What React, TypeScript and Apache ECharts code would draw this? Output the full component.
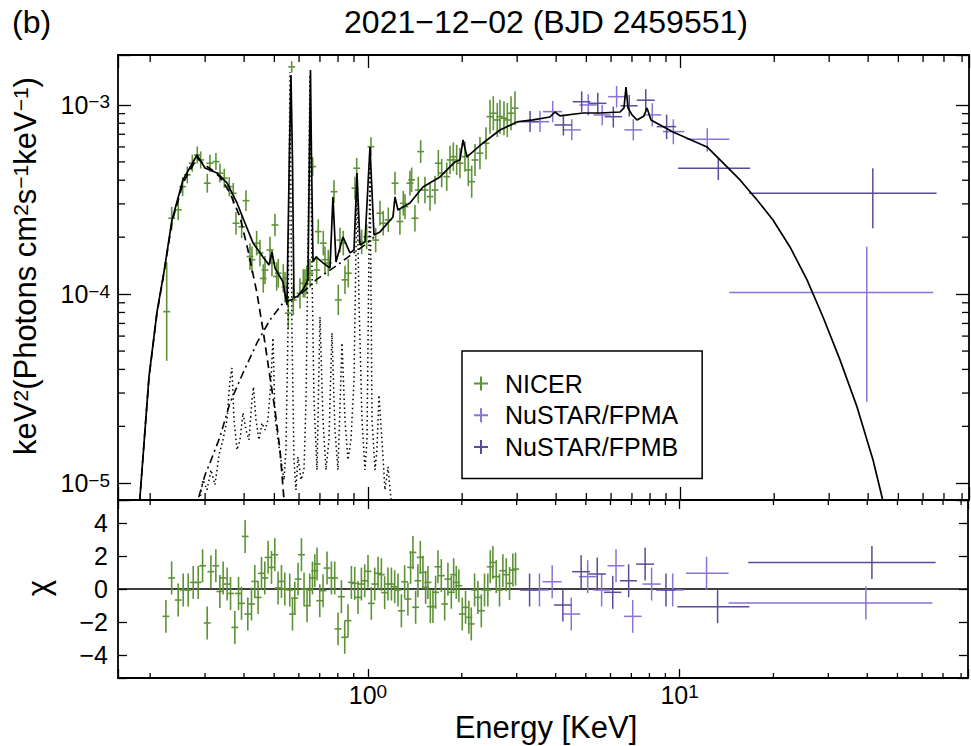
import React, { useEffect, useRef } from 'react';
import * as echarts from 'echarts';

const FONT = '"Liberation Sans", Arial, Helvetica, sans-serif';

// axis ranges
const X_MIN = 0.1577;
const X_MAX = 84.2;
const Y_MIN = 8.16e-6;
const Y_MAX = 1.837e-3;
const CHI_MIN = -5.4;
const CHI_MAX = 5.4;

// minor tick values
const xMinorTicks = [0.2, 0.3, 0.4, 0.5, 0.6, 0.7, 0.8, 0.9, 2, 3, 4, 5, 6, 7, 8, 9, 20, 30, 40, 50, 60, 70, 80];
const yMinorTicks = [2e-5, 3e-5, 4e-5, 5e-5, 6e-5, 7e-5, 8e-5, 9e-5, 2e-4, 3e-4, 4e-4, 5e-4, 6e-4, 7e-4, 8e-4, 9e-4];

const NICER_COLOR = '#5d9236';
const FPMA_COLOR = '#8a72d8';
const FPMB_COLOR = '#5b4a9c';

// NICER spectrum: [energy keV, flux, error (dex)]
const nicerSpec: number[][] = [
  [0.2259, 8.08e-5, 0.26], [0.2344, 2.52e-4, 0.06], [0.246, 2.79e-4, 0.055], [0.2541, 3.7e-4, 0.05],
  [0.263, 4.27e-4, 0.045], [0.2729, 4.92e-4, 0.045], [0.2831, 5.44e-4, 0.045], [0.2903, 5.12e-4, 0.045],
  [0.3048, 3.86e-4, 0.05], [0.3109, 4.92e-4, 0.045], [0.3249, 5.02e-4, 0.045], [0.3347, 4.36e-4, 0.05],
  [0.3455, 4.1e-4, 0.05], [0.3585, 3.7e-4, 0.05], [0.3692, 3.41e-4, 0.055], [0.3767, 2.37e-4, 0.06],
  [0.3928, 2.27e-4, 0.06], [0.4055, 3.12e-4, 0.055], [0.4176, 1.58e-4, 0.07], [0.4238, 1.52e-4, 0.07],
  [0.4387, 1.86e-4, 0.065], [0.4496, 1.65e-4, 0.07], [0.4607, 1.21e-4, 0.075], [0.4665, 1.34e-4, 0.075],
  [0.484, 1.71e-4, 0.07], [0.4912, 1.46e-4, 0.07], [0.5023, 2.32e-4, 0.06], [0.5086, 1.24e-4, 0.075],
  [0.5146, 1.29e-4, 0.075], [0.534, 1.21e-4, 0.075], [0.5408, 1.09e-4, 0.08], [0.5541, 7.93e-5, 0.085],
  [0.5682, 1.59e-3, 0.03], [0.5749, 9.32e-5, 0.08], [0.604, 1.01e-4, 0.08], [0.6189, 1.14e-4, 0.075],
  [0.6267, 1.14e-4, 0.075], [0.6346, 1.19e-4, 0.075], [0.6503, 1.29e-4, 0.075], [0.6634, 4.72e-4, 0.05],
  [0.6833, 1.34e-4, 0.075], [0.6914, 2.14e-4, 0.065], [0.7175, 1.86e-4, 0.065], [0.7265, 1.52e-4, 0.07],
  [0.7444, 1.46e-4, 0.07], [0.7764, 3.48e-4, 0.06], [0.8014, 9.32e-5, 0.08], [0.8115, 1.93e-4, 0.065],
  [0.8315, 1.86e-4, 0.065], [0.842, 1.19e-4, 0.075], [0.8627, 1.29e-4, 0.075], [0.9066, 3.63e-4, 0.06],
  [0.918, 4.63e-4, 0.055], [0.9524, 1.89e-4, 0.065], [0.9883, 2.01e-4, 0.065], [1.02, 6.02e-4, 0.05],
  [1.056, 1.93e-4, 0.065], [1.09, 2.68e-4, 0.065], [1.117, 2.37e-4, 0.065], [1.159, 2.47e-4, 0.065],
  [1.218, 3.86e-4, 0.06], [1.263, 2.42e-4, 0.07], [1.295, 3.02e-4, 0.065], [1.311, 2.9e-4, 0.065],
  [1.36, 3.86e-4, 0.065], [1.377, 4.02e-4, 0.065], [1.411, 2.52e-4, 0.07], [1.446, 3.55e-4, 0.07],
  [1.472, 5.67e-4, 0.06], [1.519, 3.55e-4, 0.07], [1.577, 3.28e-4, 0.075], [1.636, 3.55e-4, 0.075],
  [1.677, 4.92e-4, 0.07], [1.719, 4.36e-4, 0.075], [1.784, 4.18e-4, 0.075], [1.828, 5.12e-4, 0.075],
  [1.873, 5.33e-4, 0.075], [1.92, 5.12e-4, 0.08], [1.967, 4.92e-4, 0.08], [2.041, 5.33e-4, 0.08],
  [2.092, 4.53e-4, 0.085], [2.145, 3.93e-4, 0.085], [2.198, 5.12e-4, 0.085], [2.28, 5.56e-4, 0.085],
  [2.384, 6.27e-4, 0.085], [2.455, 8.67e-4, 0.09], [2.516, 9.04e-4, 0.09], [2.591, 8.33e-4, 0.09],
  [2.643, 8.67e-4, 0.09], [2.722, 8.51e-4, 0.09], [2.79, 8.33e-4, 0.09], [2.867, 9.04e-4, 0.09],
  [2.953, 9.61e-4, 0.09],
];

// NICER residuals: [energy keV, chi]
const nicerResid: number[][] = [
  [0.2247, -1.66], [0.2344, 0.67], [0.246, -0.67], [0.2553, -0.06], [0.2649, -0.06], [0.2749, 0.4],
  [0.2852, 0.4], [0.2946, 1.41], [0.3048, -2.06], [0.3133, 1.05], [0.3249, 1.41], [0.3347, -0.15],
  [0.3429, 0.67], [0.3532, 0.3], [0.3622, -0.27], [0.3739, -2.33], [0.3842, -0.27], [0.3928, -0.87],
  [0.4034, 3.19], [0.4115, -1.52], [0.4229, -0.91], [0.4333, 0.46], [0.444, -0.51], [0.4553, 0.95],
  [0.4665, 0.67], [0.4781, 1.92], [0.4902, 1.31], [0.5023, 2.08], [0.5146, 0.06], [0.5277, 0.46],
  [0.5408, 0.0], [0.561, -0.06], [0.5724, -1.52], [0.5822, -0.55], [0.5965, 0.6], [0.6116, 2.08],
  [0.6235, 0.0], [0.6374, -1.01], [0.6503, -0.06], [0.6634, 0.67], [0.6749, 1.11], [0.6863, 1.52],
  [0.7002, -0.71], [0.7175, -0.1], [0.7389, 1.27], [0.7632, 0.67], [0.782, 0.67], [0.8014, -2.42],
  [0.8217, -0.47], [0.842, -2.93], [0.8627, -1.92], [0.8846, 0.4], [0.9066, 0.34], [0.9289, -0.51],
  [0.9524, 0.3], [0.9759, 0.5], [1.0, 1.07], [1.025, -0.87], [1.051, 0.3], [1.077, 0.95],
  [1.104, 0.87], [1.131, -0.22], [1.159, 0.3], [1.189, 0.3], [1.218, 0.14], [1.248, -0.06],
  [1.28, -1.32], [1.311, 0.44], [1.343, -0.61], [1.37, 1.31], [1.394, 2.22], [1.422, -1.11],
  [1.446, 0.5], [1.472, 1.92], [1.501, 1.01], [1.531, 0.1], [1.557, 0.4], [1.585, -1.07],
  [1.616, -1.07], [1.648, -0.2], [1.677, 1.35], [1.719, 0.81], [1.762, -0.91], [1.805, 0.6],
  [1.851, -0.2], [1.883, 0.87], [1.92, 0.4], [1.957, 0.2], [2.007, -1.52], [2.056, -1.11],
  [2.107, -1.72], [2.145, -2.12], [2.198, -0.06], [2.252, -0.51], [2.31, -1.32], [2.366, -0.06],
  [2.424, -0.06], [2.468, 1.35], [2.516, 1.61], [2.579, 0.75], [2.643, -0.06], [2.709, 1.11],
  [2.777, 0.87], [2.846, 0.34], [2.916, 1.15], [2.975, 1.21],
];

// NuSTAR: [E, Elo, Ehi, F, Flo, Fhi, chi]
const fpma: number[][] = [
  [3.55, 3.3, 3.8, 8.16e-4, 7.2e-4, 9.3e-4, -0.06],
  [3.9, 3.63, 4.18, 9.22e-4, 8.1e-4, 1.05e-3, 0.44],
  [4.49, 4.2, 4.8, 7.38e-4, 6.5e-4, 8.4e-4, -1.52],
  [5.07, 4.75, 5.4, 1.0e-3, 8.8e-4, 1.14e-3, 0.75],
  [5.62, 5.27, 5.98, 8.86e-4, 7.8e-4, 1.0e-3, -0.06],
  [6.25, 5.87, 6.65, 1.106e-3, 9.7e-4, 1.26e-3, 1.41],
  [7.07, 6.62, 7.55, 7.38e-4, 6.5e-4, 8.4e-4, -1.66],
  [8.13, 7.6, 8.7, 8.86e-4, 7.7e-4, 1.02e-3, 0.3],
  [9.5, 8.8, 10.3, 7.23e-4, 6.2e-4, 8.4e-4, -0.06],
  [12.2, 10.48, 14.36, 6.59e-4, 5.66e-4, 7.53e-4, 0.95],
  [39.6, 14.36, 64.7, 1.02e-4, 2.7e-5, 1.78e-4, -0.85],
];
const fpmb: number[][] = [
  [3.3, 3.08, 3.52, 8.16e-4, 7.2e-4, 9.3e-4, -0.06],
  [4.22, 3.95, 4.5, 7.84e-4, 6.9e-4, 8.9e-4, -0.97],
  [4.83, 4.52, 5.15, 1.04e-3, 9.2e-4, 1.18e-3, 1.05],
  [5.44, 5.1, 5.8, 1.02e-3, 9.0e-4, 1.16e-3, 0.91],
  [6.1, 5.72, 6.5, 8.67e-4, 7.6e-4, 9.8e-4, -0.2],
  [6.86, 6.43, 7.3, 9.9e-4, 8.7e-4, 1.13e-3, 0.5],
  [7.75, 7.25, 8.28, 1.06e-3, 9.3e-4, 1.21e-3, 1.51],
  [9.04, 8.4, 9.7, 7.68e-4, 6.6e-4, 8.9e-4, -0.06],
  [13.24, 9.84, 16.74, 4.63e-4, 4.01e-4, 5.25e-4, -1.07],
  [41.4, 16.6, 66.3, 3.41e-4, 2.23e-4, 4.63e-4, 1.61],
];

// model curves [E, F]
const modelTotal: number[][] = [
  [0.1827, 6.81e-6], [0.1854, 8.37e-6], [0.1982, 3.65e-5], [0.2103, 8.05e-5], [0.2214, 1.31e-4],
  [0.2349, 2.467e-4], [0.2547, 4.015e-4], [0.2825, 5.441e-4], [0.2997, 4.645e-4], [0.3274, 4.371e-4],
  [0.3525, 3.87e-4], [0.3796, 3.034e-4], [0.4025, 2.378e-4], [0.4271, 1.865e-4], [0.4598, 1.572e-4],
  [0.4806, 1.426e-4], [0.4912, 1.671e-4], [0.5023, 1.375e-4], [0.5328, 1.16e-4], [0.5487, 8.77e-5],
  [0.559, 5.78e-4], [0.5652, 1.441e-3], [0.5715, 5.12e-4], [0.5778, 9.55e-5], [0.5951, 9.78e-5],
  [0.6221, 1.078e-4], [0.6407, 1.189e-4], [0.6479, 5.78e-4], [0.6527, 1.531e-3], [0.6577, 5.12e-4],
  [0.665, 1.48e-4], [0.6798, 1.572e-4], [0.7159, 1.462e-4], [0.7538, 1.375e-4], [0.7705, 3.264e-4],
  [0.788, 1.48e-4], [0.8297, 2.005e-4], [0.8736, 1.651e-4], [0.8999, 1.712e-4], [0.92, 4.371e-4],
  [0.9406, 1.82e-4], [0.9759, 1.887e-4], [1.0126, 5.998e-4], [1.043, 2.055e-4], [1.09, 2.132e-4],
  [1.2, 2.559e-4], [1.218, 3.264e-4], [1.245, 2.786e-4], [1.36, 3.034e-4], [1.497, 3.686e-4],
  [1.697, 4.164e-4], [1.896, 4.996e-4], [1.967, 5.121e-4], [2.012, 6.531e-4], [2.072, 5.311e-4],
  [2.332, 6.296e-4], [2.643, 7.376e-4], [2.997, 8.131e-4], [3.373, 8.333e-4], [3.823, 8.64e-4],
  [3.966, 9.18e-4], [4.115, 8.747e-4], [4.877, 9.07e-4], [5.528, 9.07e-4], [6.409, 9.18e-4],
  [6.6, 9.64e-4], [6.699, 1.245e-3], [6.799, 9.64e-4], [7.002, 8.86e-4], [7.265, 8.333e-4],
  [7.65, 8.747e-4], [7.821, 9.64e-4], [8.055, 8.333e-4], [9.476, 7.198e-4], [12.18, 5.998e-4],
  [13.71, 4.936e-4], [15.54, 4.015e-4], [17.62, 3.147e-4], [19.82, 2.467e-4], [22.47, 1.776e-4],
  [25.48, 1.189e-4], [28.67, 7.57e-5], [32.5, 4.49e-5], [36.85, 2.534e-5], [41.47, 1.329e-5],
  [44.31, 8.47e-6], [45.3, 7.06e-6],
];
const modelSoft: number[][] = [
  [0.1827, 6.81e-6], [0.1854, 8.37e-6], [0.1982, 3.61e-5], [0.2103, 7.95e-5], [0.2214, 1.294e-4],
  [0.2349, 2.407e-4], [0.2547, 3.87e-4], [0.2825, 5.245e-4], [0.2997, 4.818e-4], [0.3155, 4.533e-4],
  [0.3347, 4.164e-4], [0.3603, 3.426e-4], [0.388, 2.559e-4], [0.4115, 1.712e-4], [0.4397, 1.015e-4],
  [0.4598, 6.47e-5], [0.484, 3.65e-5], [0.5023, 2.443e-5], [0.5212, 1.501e-5], [0.5369, 8.17e-6],
  [0.5429, 6.41e-6],
];
const modelHard: number[][] = [
  [0.2804, 6.81e-6], [0.2845, 8.17e-6], [0.2997, 1.107e-5], [0.3109, 1.282e-5], [0.3347, 1.758e-5],
  [0.3603, 2.66e-5], [0.3967, 3.83e-5], [0.4397, 5.52e-5], [0.484, 7.3e-5], [0.5328, 8.98e-5],
  [0.5907, 9.6e-5], [0.6849, 1.2e-4], [0.7938, 1.42e-4], [0.8736, 1.6e-4], [0.9759, 1.82e-4],
  [1.043, 2.0e-4],
];
const modelLines: number[][] = [
  [0.2867, 7.69e-6], [0.2953, 1.042e-5], [0.3041, 9.23e-6], [0.3133, 1.177e-5], [0.3225, 9.81e-6],
  [0.3323, 1.413e-5], [0.3421, 1.696e-5], [0.3525, 2.163e-5], [0.3603, 3.52e-5], [0.3657, 4.07e-5],
  [0.3712, 2.163e-5], [0.3796, 1.501e-5], [0.388, 1.696e-5], [0.3967, 2.355e-5], [0.4055, 1.915e-5],
  [0.4146, 1.696e-5], [0.4238, 2.76e-5], [0.4286, 3.23e-5], [0.4366, 2.163e-5], [0.4464, 1.696e-5],
  [0.4563, 2.085e-5], [0.4665, 1.915e-5], [0.477, 2.163e-5], [0.4877, 3.52e-5], [0.495, 5.87e-5],
  [0.5023, 2.244e-5], [0.5136, 1.696e-5], [0.5251, 1.329e-5], [0.5369, 1.042e-5], [0.5447, 1.501e-5],
  [0.5528, 6.24e-5], [0.561, 1.494e-3], [0.5694, 6.47e-5], [0.5778, 1.329e-5], [0.5864, 9.23e-6],
  [0.5951, 1.379e-5], [0.6088, 1.042e-5], [0.6221, 1.177e-5], [0.6317, 2.76e-5], [0.6407, 1.712e-4],
  [0.6503, 1.441e-3], [0.66, 1.342e-4], [0.6698, 2.76e-5], [0.6849, 1.177e-5], [0.7002, 7.57e-5],
  [0.7159, 2.163e-5], [0.7318, 1.177e-5], [0.7482, 1.696e-5], [0.7648, 6.24e-5], [0.782, 1.915e-5],
  [0.7996, 1.177e-5], [0.8236, 5.52e-5], [0.842, 2.163e-5], [0.8608, 1.329e-5], [0.8801, 1.696e-5],
  [0.8999, 3.52e-5], [0.92, 3.78e-4], [0.9337, 9.32e-5], [0.9546, 2.163e-5], [0.9759, 1.177e-5],
  [0.9904, 1.696e-5], [1.0126, 5.121e-4], [1.028, 2.163e-5], [1.051, 1.177e-5], [1.066, 1.501e-5],
  [1.082, 2.93e-5], [1.106, 1.696e-5], [1.131, 9.23e-6], [1.157, 1.221e-5], [1.174, 9.23e-6],
  [1.2, 6.81e-6],
];

const NICER_XERR_DEX = 0.011;
const XF = Math.pow(10, NICER_XERR_DEX);

const crossRender = (color: string, lw: number) => (params: any, api: any) => {
  const x = api.value(0), y = api.value(1);
  const c = api.coord([x, y]);
  const l = api.coord([api.value(2), y]);
  const r = api.coord([api.value(3), y]);
  const b = api.coord([x, api.value(4)]);
  const t = api.coord([x, api.value(5)]);
  return {
    type: 'group',
    children: [
      { type: 'line', shape: { x1: l[0], y1: c[1], x2: r[0], y2: c[1] }, style: { stroke: color, lineWidth: lw } },
      { type: 'line', shape: { x1: c[0], y1: b[1], x2: c[0], y2: t[1] }, style: { stroke: color, lineWidth: lw } },
    ],
  };
};

const minorRender = (len: number) => (params: any, api: any) => {
  const cs = params.coordSys;
  const kind = api.value(2);
  const p = api.coord([api.value(0), api.value(1)]);
  const st = { stroke: '#000', lineWidth: 1.3 };
  if (kind === 0) {
    return {
      type: 'group',
      children: [
        { type: 'line', shape: { x1: p[0], y1: cs.y, x2: p[0], y2: cs.y + len }, style: st },
        { type: 'line', shape: { x1: p[0], y1: cs.y + cs.height, x2: p[0], y2: cs.y + cs.height - len }, style: st },
      ],
    };
  }
  return {
    type: 'group',
    children: [
      { type: 'line', shape: { x1: cs.x, y1: p[1], x2: cs.x + len, y2: p[1] }, style: st },
      { type: 'line', shape: { x1: cs.x + cs.width, y1: p[1], x2: cs.x + cs.width - len, y2: p[1] }, style: st },
    ],
  };
};

const powLabel = (v: number) => {
  const l = Math.log10(v);
  const e = Math.round(l);
  if (Math.abs(l - e) > 1e-6) return '';
  return `{b|10}{s|${e < 0 ? '\u2212' + -e : e}}`;
};

const tickRich = {
  b: { fontSize: 25, fontFamily: FONT, color: '#000', lineHeight: 25, verticalAlign: 'bottom' },
  s: { fontSize: 19, fontFamily: FONT, color: '#000', lineHeight: 19, verticalAlign: 'top', padding: [0, 0, 13, 0] },
};

const axisLine = { show: true, onZero: false, lineStyle: { color: '#000', width: 1.8 } };

const logX = (grid: number, position: string, tickLen: number, labels: boolean) => ({
  type: 'log',
  logBase: 10,
  gridIndex: grid,
  position,
  min: X_MIN,
  max: X_MAX,
  axisLine,
  axisTick: { show: true, inside: true, length: tickLen, lineStyle: { color: '#000', width: 1.3 } },
  axisLabel: labels
    ? { show: true, margin: 4, formatter: powLabel, rich: tickRich }
    : { show: false },
  splitLine: { show: false },
});

const logY = (position: string, labels: boolean) => ({
  type: 'log',
  logBase: 10,
  gridIndex: 0,
  position,
  min: Y_MIN,
  max: Y_MAX,
  axisLine,
  axisTick: { show: true, inside: true, length: 13, lineStyle: { color: '#000', width: 1.3 } },
  axisLabel: labels ? { show: true, margin: 8, formatter: powLabel, rich: tickRich } : { show: false },
  splitLine: { show: false },
});

const chiY = (position: string, labels: boolean) => ({
  type: 'value',
  gridIndex: 1,
  position,
  min: CHI_MIN,
  max: CHI_MAX,
  axisLine,
  axisTick: { show: true, inside: true, length: 9, lineStyle: { color: '#000', width: 1.3 } },
  axisLabel: labels
    ? {
        show: true,
        margin: 10,
        fontSize: 25,
        fontFamily: FONT,
        color: '#000',
        formatter: (v: number) =>
          Math.abs(v - Math.round(v)) < 1e-6 && Math.round(v) % 2 === 0
            ? Math.round(v) < 0
              ? '\u2212' + -Math.round(v)
              : String(Math.round(v))
            : '',
      }
    : { show: false },
  splitLine: { show: false },
});

const PLUS = 'path://M6,0H8V14H6ZM0,6H14V8H0Z';

function buildOption() {
  const nicerSpecData = nicerSpec.map(([e, f, d]) => [e, f, e / XF, e * XF, f / Math.pow(10, d), f * Math.pow(10, d)]);
  const nicerResidData = nicerResid.map(([e, c]) => [e, c, e / XF, e * XF, c - 1, c + 1]);
  const nuSpec = (arr: number[][]) => arr.map((r) => [r[0], r[3], r[1], r[2], r[4], r[5]]);
  const nuResid = (arr: number[][]) => arr.map((r) => [r[0], r[6], r[1], r[2], r[6] - 1, r[6] + 1]);

  const minorTop = [
    ...xMinorTicks.map((v) => [v, 1e-4, 0]),
    ...yMinorTicks.map((v) => [1, v, 1]),
  ];
  const minorBottom = xMinorTicks.map((v) => [v, 0, 0]);

  const crossSeries = (name: string, color: string, data: number[][], xi: number, yi: number, lw: number) => ({
    type: 'custom',
    name,
    xAxisIndex: xi,
    yAxisIndex: yi,
    itemStyle: { color },
    renderItem: crossRender(color, lw),
    data,
    z: 2,
    silent: true,
  });

  const lineSeries = (name: string, data: number[][], type: any, width: number) => ({
    type: 'line',
    name,
    xAxisIndex: 0,
    yAxisIndex: 0,
    data,
    showSymbol: false,
    symbol: 'none',
    clip: true,
    lineStyle: { color: '#000', width, type },
    z: 3,
    silent: true,
  });

  return {
    animation: false,
    backgroundColor: '#fff',
    textStyle: { fontFamily: FONT },
    grid: [
      { left: 118, right: 2, top: 55, height: 445 },
      { left: 118, right: 2, top: 500, height: 178 },
    ],
    xAxis: [logX(0, 'bottom', 13, false), logX(0, 'top', 13, false), logX(1, 'bottom', 9, true), logX(1, 'top', 9, false)],
    yAxis: [logY('left', true), logY('right', false), chiY('left', true), chiY('right', false)],
    legend: {
      left: 462,
      top: 351,
      orient: 'vertical',
      data: [
        { name: 'NICER', icon: PLUS },
        { name: 'NuSTAR/FPMA', icon: PLUS },
        { name: 'NuSTAR/FPMB', icon: PLUS },
      ],
      itemWidth: 26,
      itemHeight: 14,
      itemGap: 6.7,
      padding: [20, 24, 19, 12],
      borderColor: '#000',
      borderWidth: 1.5,
      borderRadius: 0,
      backgroundColor: '#fff',
      selectedMode: false,
      textStyle: { fontSize: 25, fontFamily: FONT, color: '#000', lineHeight: 25, padding: [0, 0, 0, 6] },
    },
    graphic: [
      {
        type: 'text',
        x: 546,
        y: 22,
        style: { text: '2021\u221212\u221202 (BJD 2459551)', fontSize: 32, fontFamily: FONT, fill: '#000', align: 'center', verticalAlign: 'middle' },
      },
      {
        type: 'text',
        x: 12,
        y: 22,
        style: { text: '(b)', fontSize: 32, fontFamily: FONT, fill: '#000', align: 'left', verticalAlign: 'middle' },
      },
      {
        type: 'text',
        x: 546,
        y: 727,
        style: { text: 'Energy [KeV]', fontSize: 31, fontFamily: FONT, fill: '#000', align: 'center', verticalAlign: 'middle' },
      },
      {
        type: 'text',
        x: 25,
        y: 266,
        rotation: Math.PI / 2,
        style: {
          text: '{b|keV}{s|2}{b|(Photons cm}{s|2}{b|s}{s|\u22121}{b|keV}{s|\u22121}{b|)}',
          align: 'center',
          verticalAlign: 'middle',
          fill: '#000',
          rich: {
            b: { fontSize: 31, fontFamily: FONT, fill: '#000', lineHeight: 31, verticalAlign: 'bottom' },
            s: { fontSize: 21, fontFamily: FONT, fill: '#000', lineHeight: 21, verticalAlign: 'top', padding: [0, 0, 30, 0] },
          },
        },
      },
      {
        type: 'text',
        x: 38,
        y: 588,
        rotation: Math.PI / 2,
        style: { text: '\u03c7', fontSize: 31, fontFamily: FONT, fill: '#000', align: 'center', verticalAlign: 'middle' },
      },
    ],
    series: [
      {
        type: 'custom',
        name: 'minorTop',
        xAxisIndex: 0,
        yAxisIndex: 0,
        renderItem: minorRender(7),
        data: minorTop,
        silent: true,
        z: 5,
      },
      {
        type: 'custom',
        name: 'minorBottom',
        xAxisIndex: 2,
        yAxisIndex: 2,
        renderItem: minorRender(5),
        data: minorBottom,
        silent: true,
        z: 5,
      },
      crossSeries('NICER', NICER_COLOR, nicerSpecData, 0, 0, 1.6),
      crossSeries('NuSTAR/FPMA', FPMA_COLOR, nuSpec(fpma), 0, 0, 1.5),
      crossSeries('NuSTAR/FPMB', FPMB_COLOR, nuSpec(fpmb), 0, 0, 1.5),
      crossSeries('NICER', NICER_COLOR, nicerResidData, 2, 2, 1.6),
      crossSeries('NuSTAR/FPMA', FPMA_COLOR, nuResid(fpma), 2, 2, 1.5),
      crossSeries('NuSTAR/FPMB', FPMB_COLOR, nuResid(fpmb), 2, 2, 1.5),
      {
        type: 'line',
        name: 'zero',
        xAxisIndex: 2,
        yAxisIndex: 2,
        data: [[X_MIN, 0], [X_MAX, 0]],
        showSymbol: false,
        symbol: 'none',
        lineStyle: { color: '#000', width: 1.5 },
        z: 1,
        silent: true,
      },
      lineSeries('lines', modelLines, [1.5, 3], 1.5),
      lineSeries('hard', modelHard, [8, 4, 2, 4], 1.6),
      lineSeries('soft', modelSoft, [8, 5], 1.7),
      lineSeries('total', modelTotal, 'solid', 1.7),
    ],
  };
}

export default function App() {
  const ref = useRef<HTMLDivElement>(null);
  useEffect(() => {
    if (!ref.current) return;
    const chart = echarts.init(ref.current, undefined, { renderer: 'svg' });
    chart.setOption(buildOption() as any);
    return () => chart.dispose();
  }, []);
  return (
    <div
      ref={ref}
      style={{ position: 'fixed', left: 0, top: 0, width: 971, height: 746, background: '#fff' }}
    />
  );
}
